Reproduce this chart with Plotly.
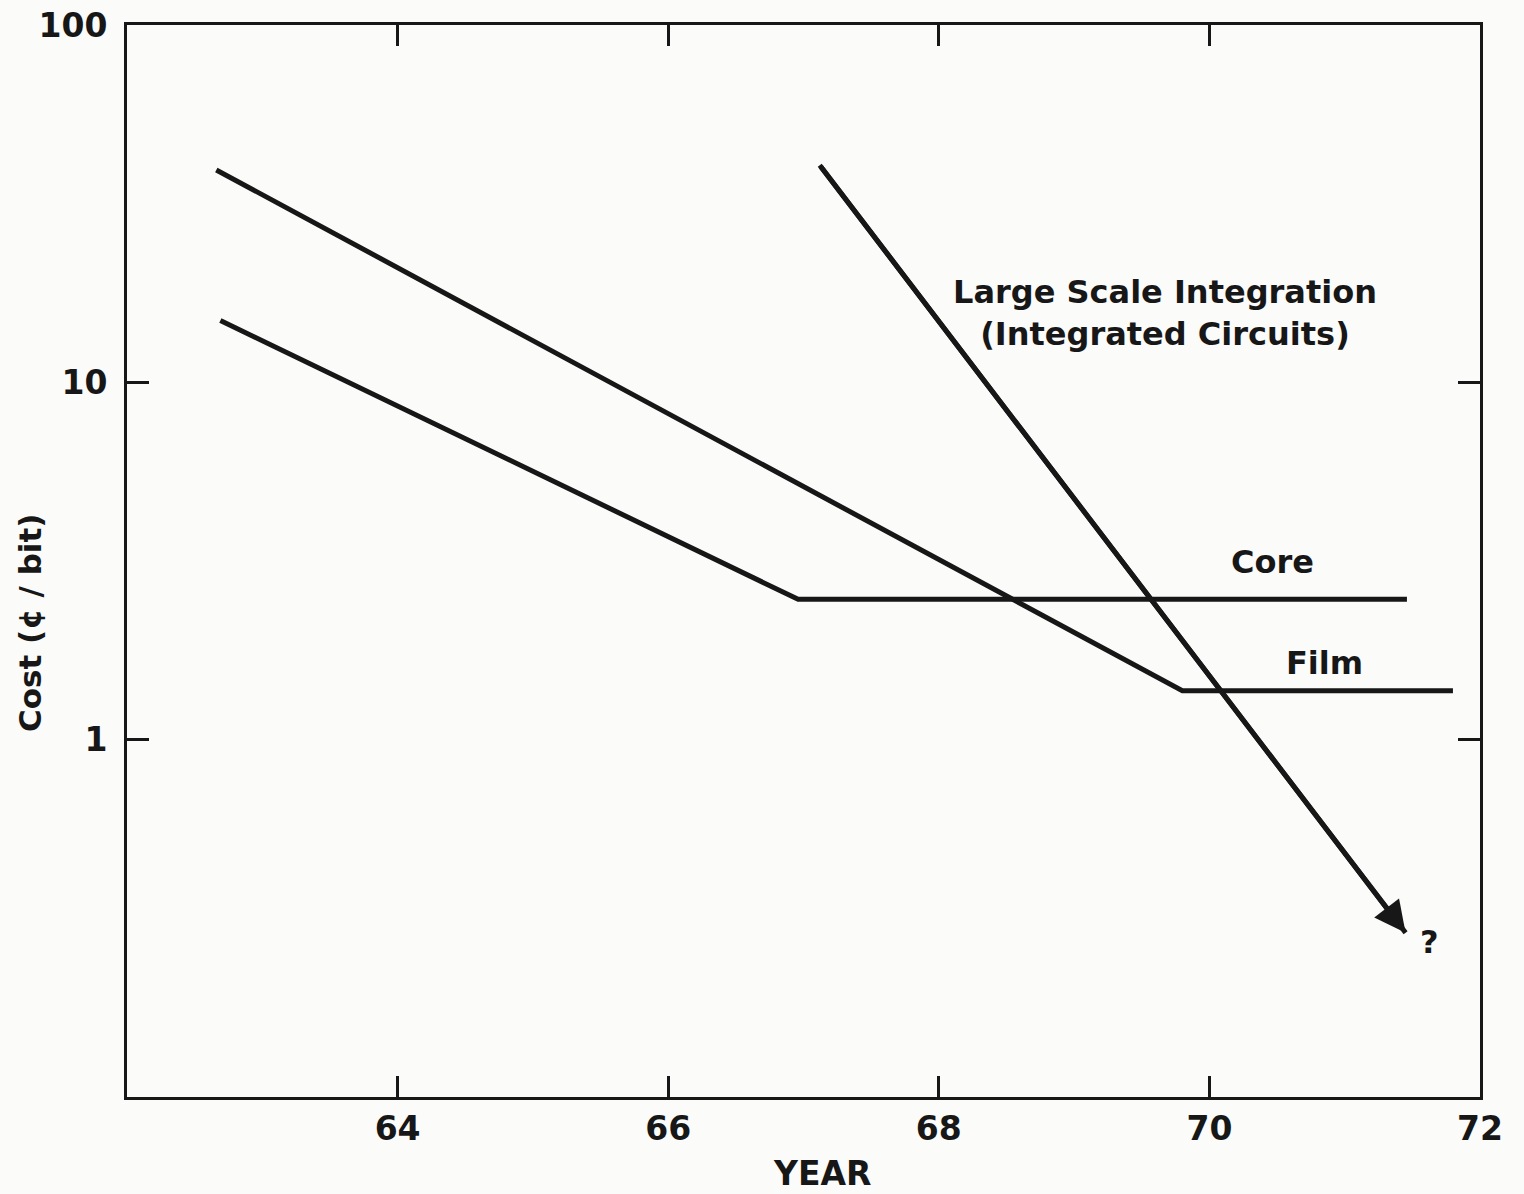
import math
import plotly.graph_objects as go

# ---- data ----
film_year = [62.66, 69.80, 71.80]
film_cost = [39.3, 1.37, 1.37]

core_year = [62.69, 66.96, 71.46]
core_cost = [14.9, 2.47, 2.47]

lsi_year = [67.12, 71.45]
lsi_cost = [40.5, 0.288]

x_ticks = [64, 66, 68, 70, 72]
x_tick_labels = ["64", "66", "68", "70", "72"]
y_ticks = [1, 10, 100]
y_tick_labels = ["1", "10", "100"]

INK = "#171717"
FONT = "DejaVu Sans"

fig = go.Figure()
for xs, ys in [(film_year, film_cost), (core_year, core_cost), (lsi_year, lsi_cost)]:
    fig.add_trace(go.Scatter(x=xs, y=ys, mode="lines",
                             line=dict(color=INK, width=5),
                             showlegend=False, hoverinfo="skip"))

# arrowhead on the LSI line
fig.add_annotation(x=lsi_year[-1], y=math.log10(lsi_cost[-1]),
                   ax=lsi_year[0], ay=math.log10(lsi_cost[0]),
                   xref="x", yref="y", axref="x", ayref="y",
                   text="", showarrow=True, arrowhead=2, arrowsize=1.25,
                   arrowwidth=5, arrowcolor=INK, standoff=0)

labels = [
    (69.67, 15.6, "Large Scale Integration<br>(Integrated Circuits)"),
    (70.47, 3.14, "Core"),
    (70.85, 1.64, "Film"),
    (71.63, 0.272, "?"),
]
for lx, ly, txt in labels:
    fig.add_annotation(x=lx, y=math.log10(ly), xref="x", yref="y", text=txt,
                       showarrow=False, xanchor="center", yanchor="middle",
                       font=dict(family=FONT, size=32, color=INK, weight="bold"),
                       align="center")

# axis titles
fig.add_annotation(x=-0.0717, y=0.443, xref="paper", yref="paper",
                   xanchor="center", yanchor="middle",
                   text="Cost (\u00a2 / bit)", textangle=-90, showarrow=False,
                   font=dict(family=FONT, size=31, color=INK, weight="bold"))
fig.add_annotation(x=0.514, y=-0.0709, xref="paper", yref="paper",
                   xanchor="center", yanchor="middle",
                   text="YEAR", showarrow=False,
                   font=dict(family=FONT, size=33, color=INK, weight="bold"))

tick_font = dict(family=FONT, size=33, color=INK, weight="bold")
fig.update_xaxes(range=[62, 72], tickvals=x_ticks, ticktext=x_tick_labels,
                 ticks="inside", ticklen=21, tickwidth=2.5, tickcolor=INK,
                 showline=True, linewidth=3, linecolor=INK, mirror="ticks",
                 showgrid=False, zeroline=False, tickfont=tick_font,
                 ticklabeloverflow="allow")
fig.update_yaxes(type="log", range=[-1, 2], tickvals=y_ticks, ticktext=y_tick_labels,
                 ticks="inside", ticklen=22, tickwidth=2.5, tickcolor=INK,
                 showline=True, linewidth=3, linecolor=INK, mirror="ticks",
                 showgrid=False, zeroline=False, ticklabelstandoff=10,
                 tickfont=tick_font, ticklabeloverflow="allow")

fig.update_layout(width=1524, height=1194,
                  margin=dict(l=127, r=44, t=25, b=97, autoexpand=False),
                  paper_bgcolor="#fbfbfa", plot_bgcolor="#fbfbfa",
                  showlegend=False)

fig.write_html("out.html", config={"displayModeBar": False},
               post_script="document.body.style.margin='0px';document.body.style.overflow='hidden';")
